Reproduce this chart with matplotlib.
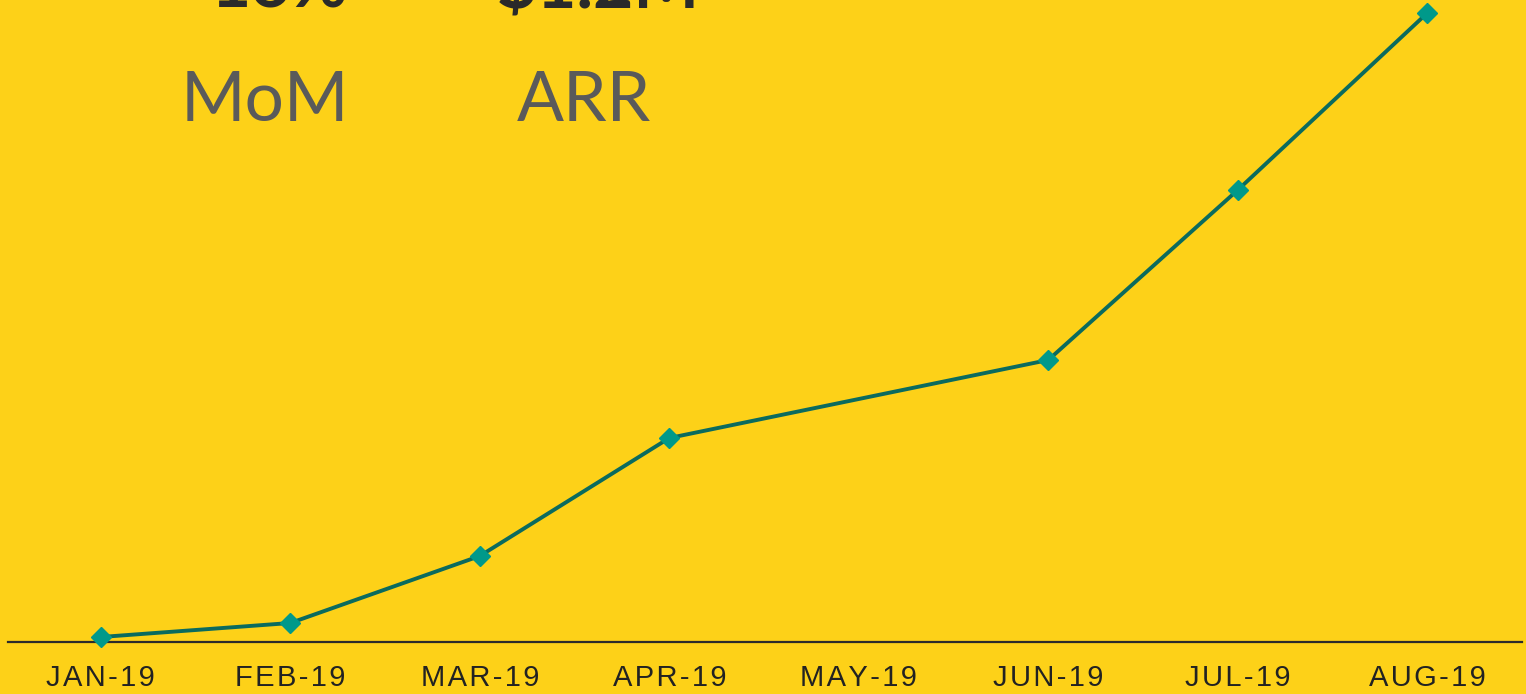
import matplotlib.pyplot as plt
import numpy as np

# Monthly values (arbitrary units); MAY-19 has no point
months = ['JAN-19', 'FEB-19', 'MAR-19', 'APR-19', 'MAY-19', 'JUN-19', 'JUL-19', 'AUG-19']
values = [5, 19, 86, 204, None, 282, 452, 629]

headline_numbers = ['16%', '$1.2M']
headline_labels = ['MoM', 'ARR']

bg = '#FDD118'
line_color = '#0B6B5E'
marker_color = '#00998A'

fig = plt.figure(figsize=(15.26, 6.94), dpi=100)
fig.patch.set_facecolor(bg)
ax = fig.add_axes([8 / 1526, 52 / 694, 1514 / 1526, 642 / 694])
ax.set_facecolor(bg)

x = np.arange(len(months))
pts = [(i, v) for i, v in zip(x, values) if v is not None]
px = [p[0] for p in pts]
py = [p[1] for p in pts]
ax.plot(px, py, color=line_color, linewidth=2.8, zorder=2)
ax.plot(px, py, linestyle='none', marker='D', markersize=10,
        color=marker_color, zorder=3, clip_on=False)

# tracked (letter-spaced) tick labels
spaced = ['\u200a'.join(m) for m in months]
ax.set_xlim(-0.49, 7.5)
ax.set_ylim(0, 642)
ax.set_xticks(x)
ax.set_xticklabels(spaced, fontsize=21, family=['Liberation Sans', 'DejaVu Sans'],
                   color='#222222')
ax.tick_params(axis='x', length=0, pad=16)
ax.set_yticks([])
for s in ['top', 'left', 'right']:
    ax.spines[s].set_visible(False)
ax.spines['bottom'].set_color('#2b2b2b')
ax.spines['bottom'].set_linewidth(1.6)

# headline block in the top left (numbers are cropped by the top edge)
for xpos, num in zip([210 / 1526, 497 / 1526], headline_numbers):
    fig.text(xpos, 1 - 8 / 694, num, fontsize=50, fontweight='bold',
             family='Lato', color='#2a2a2a', va='baseline', ha='left')
for xpos, lab in zip([181 / 1526, 517 / 1526], headline_labels):
    fig.text(xpos, 1 - 121 / 694, lab, fontsize=50, family='Lato',
             color='#5a5a5a', va='baseline', ha='left')

fig.savefig('out.png', dpi=100, facecolor=bg)
